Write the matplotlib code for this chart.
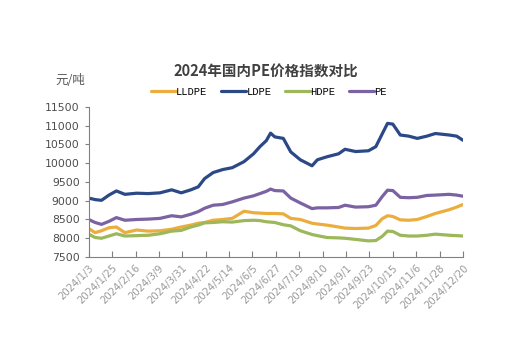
import numpy as np
import pandas as pd
import matplotlib
matplotlib.use("Agg")
import matplotlib.pyplot as plt

plt.rcParams['font.family'] = ['Noto Sans CJK SC', 'DejaVu Sans']

day_offsets = [0, 6, 12, 19, 26, 34, 45, 56, 67, 78, 87, 96, 103, 109, 117,
               126, 135, 146, 155, 161, 167, 171, 175, 183, 190, 199, 210, 215,
               224, 235, 241, 251, 263, 270, 276, 281, 286, 293, 301, 309, 318,
               326, 339, 346, 352]

lldpe = [8260, 8150, 8200, 8280, 8300, 8150, 8220, 8190, 8200, 8240, 8300,
         8350, 8400, 8420, 8480, 8500, 8530, 8720, 8680, 8670, 8660, 8660,
         8660, 8650, 8530, 8500, 8400, 8380, 8350, 8300, 8270, 8260, 8270,
         8340, 8520, 8600, 8580, 8490, 8480, 8500, 8580, 8660, 8760, 8830, 8900]
ldpe = [9070, 9030, 9010, 9150, 9260, 9170, 9200, 9190, 9210, 9290, 9210,
        9290, 9370, 9590, 9750, 9830, 9880, 10040, 10250, 10440, 10600, 10800,
        10700, 10660, 10300, 10090, 9930, 10090, 10170, 10250, 10370, 10310,
        10330, 10440, 10780, 11060, 11040, 10750, 10720, 10660, 10720, 10790,
        10750, 10720, 10610]
hdpe = [8110, 8020, 8000, 8060, 8120, 8060, 8070, 8080, 8120, 8190, 8210,
        8300, 8350, 8410, 8420, 8440, 8430, 8470, 8480, 8470, 8440, 8430, 8420,
        8360, 8330, 8200, 8100, 8070, 8020, 8010, 8000, 7970, 7930, 7940, 8050,
        8190, 8180, 8080, 8060, 8060, 8080, 8110, 8080, 8070, 8060]
pe = [8500, 8420, 8370, 8450, 8550, 8480, 8500, 8510, 8530, 8600, 8570, 8640,
      8710, 8800, 8880, 8900, 8970, 9070, 9130, 9190, 9250, 9310, 9270, 9260,
      9070, 8940, 8790, 8810, 8810, 8820, 8880, 8830, 8840, 8880, 9110, 9280,
      9270, 9090, 9080, 9090, 9140, 9150, 9170, 9150, 9120]

series_names = ['LLDPE', 'LDPE', 'HDPE', 'PE']
colors = ['#EBAE3E', '#2B4887', '#9CB85A', '#7A62A3']

dates = pd.Timestamp('2024-01-03') + pd.to_timedelta(day_offsets, unit='D')
tick_dates = pd.date_range('2024-01-03', '2024-12-20', freq='22D')

fig = plt.figure(figsize=(5.22, 3.61), dpi=100)
ax = fig.add_axes([0.170, 0.288, 0.717, 0.416])

for name, vals, c in zip(series_names, [lldpe, ldpe, hdpe, pe], colors):
    ax.plot(dates, vals, color=c, lw=2.3, label=name, solid_capstyle='round')

ax.set_ylim(7500, 11500)
ax.set_yticks(np.arange(7500, 11501, 500))
ax.set_xlim(tick_dates[0], tick_dates[-1])
ax.set_xticks(tick_dates)
ax.set_xticklabels([f'{d.year}/{d.month}/{d.day}' for d in tick_dates],
                   rotation=45, ha='right', rotation_mode='anchor',
                   fontsize=7.2, color='#999999', family='DejaVu Sans')
ax.tick_params(axis='y', labelsize=7.8, labelcolor='#4D4D4D', direction='out',
               length=3, color='#808080')
ax.tick_params(axis='x', direction='in', length=4, color='#808080', pad=4)
for lab in ax.get_yticklabels():
    lab.set_family('DejaVu Sans')
for s in ['top', 'right']:
    ax.spines[s].set_visible(False)
for s in ['left', 'bottom']:
    ax.spines[s].set_color('#808080')

fig.text(0.51, 0.805, '2024年国内PE价格指数对比', ha='center', va='center',
         fontsize=10.5, fontweight='bold', color='#404040')
fig.text(0.135, 0.778, '元/吨', ha='center', va='center', fontsize=9,
         color='#595959')

fig.legend(loc='center', bbox_to_anchor=(0.515, 0.745), ncol=4, frameon=False,
           handlelength=2.4, handletextpad=0.05, columnspacing=1.3,
           prop={'family': ['Liberation Mono'], 'size': 7.5})

fig.savefig('out.png', dpi=100)
